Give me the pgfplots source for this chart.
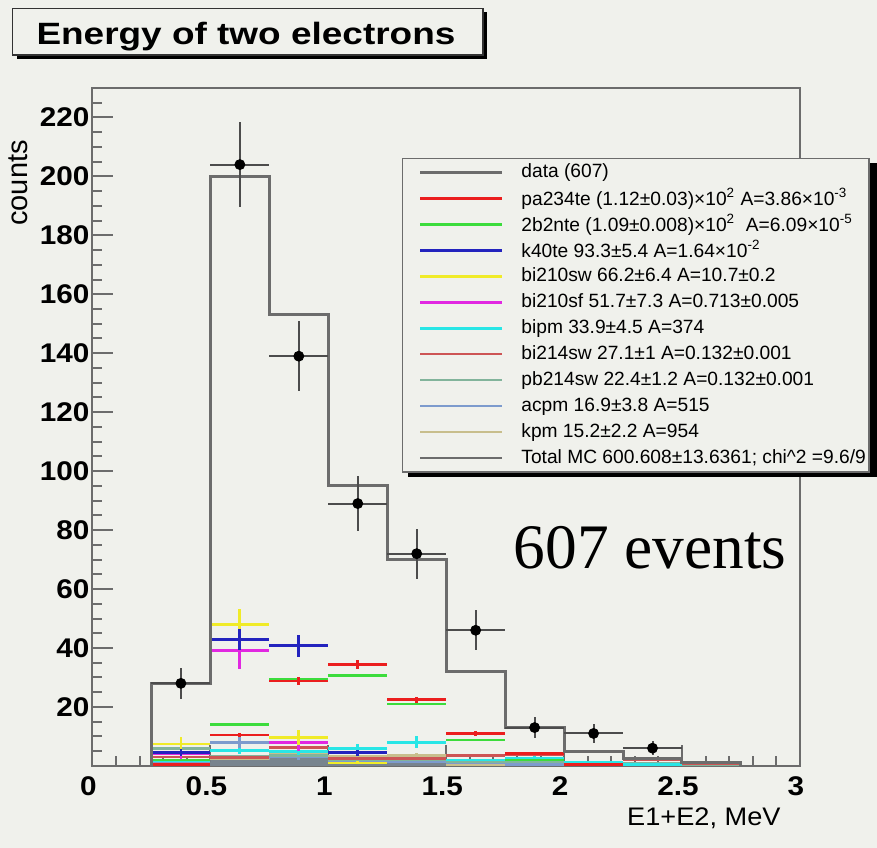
\documentclass[border=0pt]{standalone}
\usepackage{pgfplots}
\pgfplotsset{compat=1.18}
\usepackage{fontspec}
\setmainfont{Liberation Sans}
\newfontfamily\timesfont{Liberation Serif}
\newfontfamily\tickfont[FakeStretch=1.1]{Liberation Sans}
\newfontfamily\titlefont[FakeStretch=1.2]{Liberation Sans}
\newfontfamily\labfont[FakeStretch=1.07]{Liberation Sans}
\definecolor{bg}{RGB}{240,241,236}
\definecolor{frame}{RGB}{108,108,108}
\definecolor{cRed}{RGB}{235,30,30}
\definecolor{cGreen}{RGB}{60,220,60}
\definecolor{cBlue}{RGB}{35,35,190}
\definecolor{cYellow}{RGB}{240,235,40}
\definecolor{cMagenta}{RGB}{225,40,225}
\definecolor{cCyan}{RGB}{40,230,230}
\definecolor{cIndian}{RGB}{205,85,85}
\definecolor{cSea}{RGB}{130,180,155}
\definecolor{cSteel}{RGB}{125,155,205}
\definecolor{cTan}{RGB}{200,190,140}
\definecolor{cSlate}{RGB}{120,132,142}
\pgfplotsset{
  comp/.style={forget plot, draw=none, mark=none,
    error bars/.cd, x dir=both, x explicit, y dir=both, y explicit,
    error mark=none, error bar style={draw=#1, line width=1.4bp}},
}
\begin{document}
\begin{tikzpicture}[x=0.5bp,y=0.5bp]
\fill[bg] (0,0) rectangle (877,848);
% title box
\fill[black] (17,789) rectangle (487,836);
\draw[fill=bg, draw=black!80, line width=0.6bp] (12.7,793) rectangle (483,839.7);
\node[anchor=base, font=\titlefont\bfseries\fontsize{15.4bp}{16bp}\selectfont, inner sep=0pt] at (246,803) {Energy of two electrons};
\begin{axis}[
  at={(46.25bp,41bp)}, anchor=south west,
  scale only axis, width=353.75bp, height=339bp,
  xmin=0, xmax=3, ymin=0, ymax=230,
  clip=false,
  axis background/.style={fill=bg},
  axis line style={draw=frame, line width=1bp},
  tick align=inside, tick pos=left,
  xtick={0,0.5,1,1.5,2,2.5,3},
  minor xtick={0.1,0.2,0.3,0.4,0.6,0.7,0.8,0.9,1.1,1.2,1.3,1.4,1.6,1.7,1.8,1.9,2.1,2.2,2.3,2.4,2.6,2.7,2.8,2.9},
  ytick={20,40,60,80,100,120,140,160,180,200,220},
  minor ytick={5,10,15,25,30,35,45,50,55,65,70,75,85,90,95,105,110,115,125,130,135,145,150,155,165,170,175,185,190,195,205,210,215,225},
  major tick length=10.5bp, minor tick length=5bp,
  every tick/.style={draw=frame, line width=1bp},
  ticklabel style={font=\tickfont\bfseries\fontsize{13.5bp}{14bp}\selectfont},
  /pgf/number format/assume math mode=true,
  yticklabel style={xshift=2bp},
  xticklabel style={yshift=-2bp, xshift=-2bp},
  legend style={at={(axis cs:1.311,206.4)}, anchor=north west,
    fill=bg, draw=frame, line width=0.8bp,
    inner xsep=1.5bp, inner ysep=0.5bp, row sep=0pt, column sep=0pt,
    font=\fontsize{9.6bp}{11bp}\selectfont,
    nodes={inner sep=0pt, minimum height=13bp},
    cells={anchor=west}},
  legend image code/.code={\path[draw=none] (0bp,0bp) -- (58bp,0bp); \draw[#1, line width=1.2bp] (7.5bp,0bp) -- (48.5bp,0bp);},
]
% legend shadow
\fill[black] (axis cs:1.337,204.4) rectangle (axis cs:3.327,98.0);
% legend
\addlegendimage{draw=frame}
\addlegendentry{data (607)}
\addlegendimage{draw=cRed}
\addlegendentry{pa234te (1.12±0.03)×10\textsuperscript{2} A=3.86×10\textsuperscript{-3}}
\addlegendimage{draw=cGreen}
\addlegendentry{2b2nte (1.09±0.008)×10\textsuperscript{2}\ \ A=6.09×10\textsuperscript{-5}}
\addlegendimage{draw=cBlue}
\addlegendentry{k40te 93.3±5.4 A=1.64×10\textsuperscript{-2}}
\addlegendimage{draw=cYellow}
\addlegendentry{bi210sw 66.2±6.4 A=10.7±0.2}
\addlegendimage{draw=cMagenta}
\addlegendentry{bi210sf 51.7±7.3 A=0.713±0.005}
\addlegendimage{draw=cCyan}
\addlegendentry{bipm 33.9±4.5 A=374}
\addlegendimage{draw=cIndian}
\addlegendentry{bi214sw 27.1±1 A=0.132±0.001}
\addlegendimage{draw=cSea}
\addlegendentry{pb214sw 22.4±1.2 A=0.132±0.001}
\addlegendimage{draw=cSteel}
\addlegendentry{acpm 16.9±3.8 A=515}
\addlegendimage{draw=cTan}
\addlegendentry{kpm 15.2±2.2 A=954}
\addlegendimage{draw=frame}
\addlegendentry{Total MC 600.608±13.6361; chi\textasciicircum 2 =9.6/9}

% small stacked components near zero
\addplot[forget plot, const plot, fill=cSlate, draw=none] coordinates {
(0.25,0) (0.25,1.2) (0.5,2.0) (0.75,3.7) (1.0,2.6) (1.25,2.6) (1.5,1.5) (1.75,1.0) (2.0,0.7) (2.25,0.7) (2.5,0.7) (2.75,0.7) (2.75,0)};

% kpm
\addplot[comp=cTan] table[x=x,y=y,x error=ex,y error=ey] {
x y ex ey
0.375 0.8 0.125 0.3
0.625 2.5 0.125 0.6
0.875 4.5 0.125 1.0
1.125 3.2 0.125 0.8
1.375 3.5 0.125 0.8
1.625 0.5 0.125 0.2
};
% acpm
\addplot[comp=cSteel] table[x=x,y=y,x error=ex,y error=ey] {
x y ex ey
0.375 1.0 0.125 0.5
0.625 7.9 0.125 2.0
0.875 3.0 0.125 1.0
1.125 1.5 0.125 0.6
1.375 1.5 0.125 0.6
1.625 1.0 0.125 0.5
1.875 0.5 0.125 0.3
};
% pb214sw
\addplot[comp=cSea] table[x=x,y=y,x error=ex,y error=ey] {
x y ex ey
0.375 5.8 0.125 0.3
0.625 3.2 0.125 0.3
0.875 3.5 0.125 0.3
1.125 2.0 0.125 0.2
1.375 2.0 0.125 0.2
1.625 1.5 0.125 0.2
1.875 1.5 0.125 0.2
2.125 1.0 0.125 0.1
2.375 0.8 0.125 0.1
2.625 0.5 0.125 0.1
};
% bi214sw
\addplot[comp=cIndian] table[x=x,y=y,x error=ex,y error=ey] {
x y ex ey
0.375 3.0 0.125 0.2
0.625 2.8 0.125 0.2
0.875 6.3 0.125 0.3
1.125 2.5 0.125 0.2
1.375 2.5 0.125 0.2
1.625 3.5 0.125 0.2
1.875 3.8 0.125 0.2
2.125 0.5 0.125 0.1
2.375 2.0 0.125 0.1
2.625 0.9 0.125 0.1
};
% bipm
\addplot[comp=cCyan] table[x=x,y=y,x error=ex,y error=ey] {
x y ex ey
0.375 1.7 0.125 0.5
0.625 5.1 0.125 1.0
0.875 4.8 0.125 1.0
1.125 6.0 0.125 1.5
1.375 8.0 0.125 2.0
1.625 2.0 0.125 0.5
1.875 2.6 0.125 0.7
2.125 1.2 0.125 0.5
2.375 0.5 0.125 0.2
};
% bi210sf
\addplot[comp=cMagenta] table[x=x,y=y,x error=ex,y error=ey] {
x y ex ey
0.375 4.2 0.125 2.0
0.625 39.2 0.125 6.2
0.875 7.9 0.125 2.7
};
% bi210sw
\addplot[comp=cYellow] table[x=x,y=y,x error=ex,y error=ey] {
x y ex ey
0.375 7.4 0.125 2.5
0.625 48.1 0.125 5.0
0.875 9.7 0.125 2.5
1.125 1.0 0.125 0.5
};
% k40te
\addplot[comp=cBlue] table[x=x,y=y,x error=ex,y error=ey] {
x y ex ey
0.375 4.6 0.125 1.2
0.625 42.9 0.125 3.7
0.875 40.8 0.125 3.7
1.125 4.5 0.125 1.0
};
% 2b2nte
\addplot[comp=cGreen] table[x=x,y=y,x error=ex,y error=ey] {
x y ex ey
0.375 2.0 0.125 0.2
0.625 14.1 0.125 0.4
0.875 29.3 0.125 0.5
1.125 30.6 0.125 0.5
1.375 21.0 0.125 0.4
1.625 8.8 0.125 0.3
1.875 2.0 0.125 0.2
2.125 0.4 0.125 0.1
};
% pa234te
\addplot[comp=cRed] table[x=x,y=y,x error=ex,y error=ey] {
x y ex ey
0.375 0.4 0.125 0.2
0.625 10.5 0.125 0.8
0.875 28.8 0.125 1.2
1.125 34.5 0.125 1.5
1.375 22.4 0.125 1.1
1.625 11.1 0.125 0.8
1.875 4.1 0.125 0.5
2.125 0.6 0.125 0.2
};

% Total MC
\addplot[forget plot, const plot, draw=frame, line width=1.5bp] coordinates {
(0.25,0) (0.25,28) (0.5,200) (0.75,153) (1.0,95) (1.25,70) (1.5,32) (1.75,13) (2.0,5) (2.25,2.5) (2.5,1.1) (2.75,1.1) (2.75,0)};

% data
\addplot[forget plot, only marks, mark=*, mark size=2.5bp, color=black,
  error bars/.cd, x dir=both, x explicit, y dir=both, y explicit, error mark=none,
  error bar style={draw=black!70, line width=1bp}]
  table[x=x,y=y,x error=ex,y error=ey] {
x y ex ey
0.375 28 0.125 5.3
0.625 204 0.125 14.3
0.875 139 0.125 11.8
1.125 89 0.125 9.4
1.375 72 0.125 8.5
1.625 46 0.125 6.8
1.875 13 0.125 3.6
2.125 11 0.125 3.3
2.375 6 0.125 2.4
};

\node[anchor=base west, inner sep=0pt, font=\timesfont\fontsize{31.7bp}{32bp}\selectfont] at (axis cs:1.785,67.1) {607 events};
\end{axis}
\node[rotate=90, font=\fontsize{14.5bp}{15bp}\selectfont, inner sep=0pt] at (18,665) {counts};
\node[anchor=base, font=\labfont\fontsize{12.7bp}{13bp}\selectfont, inner sep=0pt] at (704,22) {E1+E2, MeV};
\end{tikzpicture}
\end{document}
